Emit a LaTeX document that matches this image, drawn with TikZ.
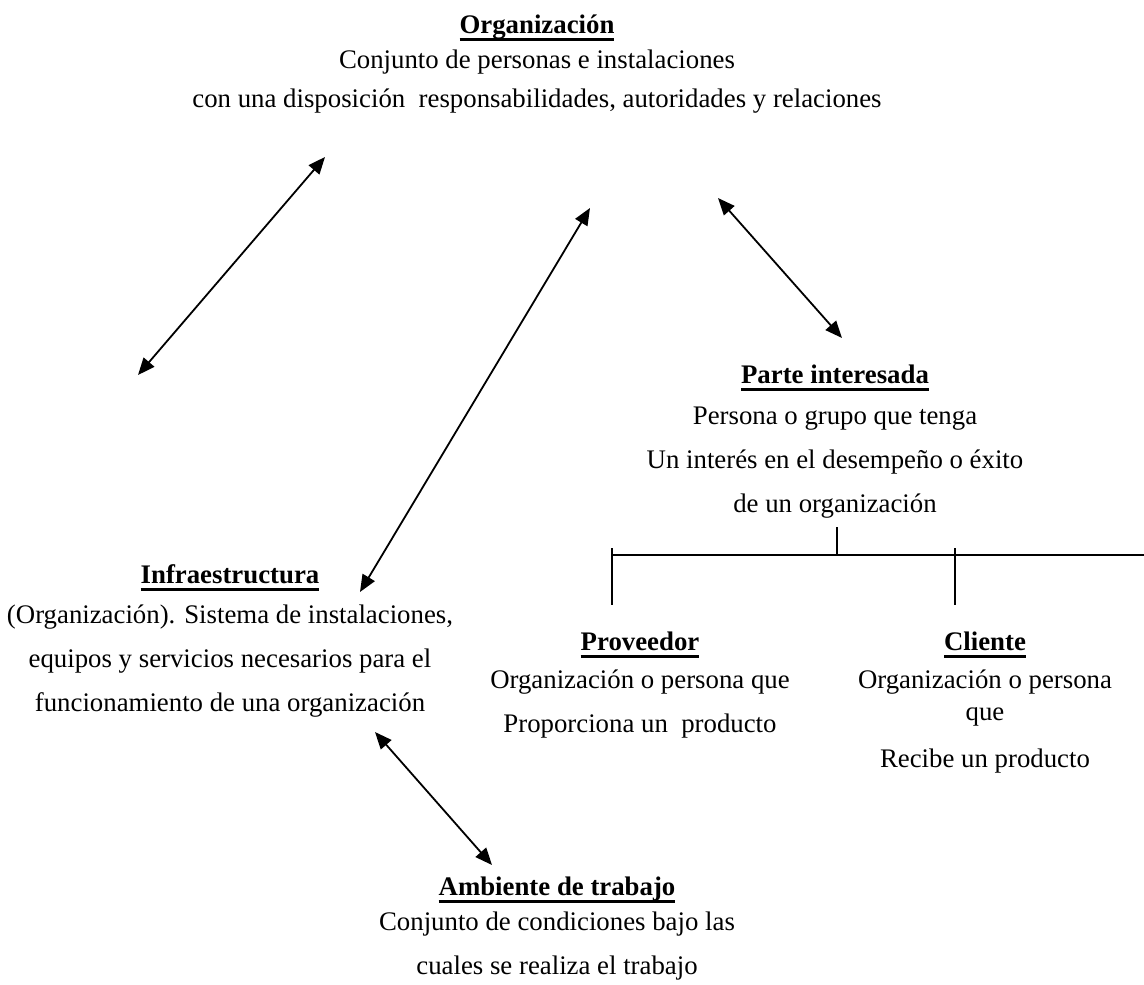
\documentclass[tikz,border=0pt]{standalone}
\usepackage{fontspec}
\setmainfont{Liberation Serif}
\usetikzlibrary{arrows.meta}
\newcommand{\subrayado}[1]{\setbox0\hbox{\bfseries #1}\rlap{\rule[-7.5pt]{\wd0}{2.5pt}}\box0}

\begin{document}
\begin{tikzpicture}[x=1pt,y=-1pt]
	\tikzset{titulo/.style={anchor=base,inner sep=0pt,font=\fontsize{26.8}{44}\selectfont},
		texto/.style={anchor=base,inner sep=0pt,align=center,font=\fontsize{26.8}{44}\selectfont},
		flecha/.style={{Triangle[length=17pt,width=14pt]}-{Triangle[length=17pt,width=14pt]},line width=1.8pt},
		rama/.style={line width=1.6pt}}
	\useasboundingbox (0,0) rectangle (1144,985);
	% bloques de texto (base = ultima linea)
	\node[titulo] (org) at (537,33) {\subrayado{Organización}};
	\node[texto,font=\fontsize{26.8}{39}\selectfont] (org-txt) at (537,107) {Conjunto de personas e instalaciones\\con una disposición~ responsabilidades, autoridades y relaciones};
	\node[titulo] (parte) at (835,383) {\subrayado{Parte interesada}};
	\node[texto] (parte-txt) at (835,512) {Persona o grupo que tenga\\Un interés en el desempeño o éxito\\de un organización};
	\node[titulo] (infra) at (230,583) {\subrayado{Infraestructura}};
	\node[texto] (infra-txt) at (230,711) {(Organización). Sistema de instalaciones,\\equipos y servicios necesarios para el\\funcionamiento de una organización};
	\node[titulo] (prov) at (640,650) {\subrayado{Proveedor}};
	\node[texto] (prov-txt) at (640,732) {Organización o persona que\\Proporciona un~ producto};
	\node[titulo] (cliente) at (985,650) {\subrayado{Cliente}};
	\node[texto] (cliente-txt) at (985,767) {Organización o persona\\[-12pt]que\\[3pt]Recibe un producto};
	\node[titulo] (ambiente) at (557,895) {\subrayado{Ambiente de trabajo}};
	\node[texto] (ambiente-txt) at (557,974) {Conjunto de condiciones bajo las\\cuales se realiza el trabajo};
	% extremos de flechas
	\coordinate (f1a) at (325,157); \coordinate (f1b) at (138,375);
	\coordinate (f2a) at (590,208); \coordinate (f2b) at (360,592);
	\coordinate (f3a) at (718,198); \coordinate (f3b) at (842,338);
	\coordinate (f4a) at (375,732); \coordinate (f4b) at (492,865);
	\draw[flecha] (f1a) -- (f1b);
	\draw[flecha] (f2a) -- (f2b);
	\draw[flecha] (f3a) -- (f3b);
	\draw[flecha] (f4a) -- (f4b);
	% ramas de parte interesada
	\coordinate (tronco) at (837,527);
	\coordinate (barra-izq) at (612,555);
	\coordinate (barra-der) at (1144,555);
	\coordinate (prov-sup) at (612,548); \coordinate (prov-inf) at (612,605);
	\coordinate (cliente-sup) at (955,548); \coordinate (cliente-inf) at (955,605);
	\draw[rama] (tronco) -- (tronco |- barra-izq);
	\draw[rama] (barra-izq) -- (barra-der);
	\draw[rama] (prov-sup) -- (prov-inf);
	\draw[rama] (cliente-sup) -- (cliente-inf);
\end{tikzpicture}
\end{document}
